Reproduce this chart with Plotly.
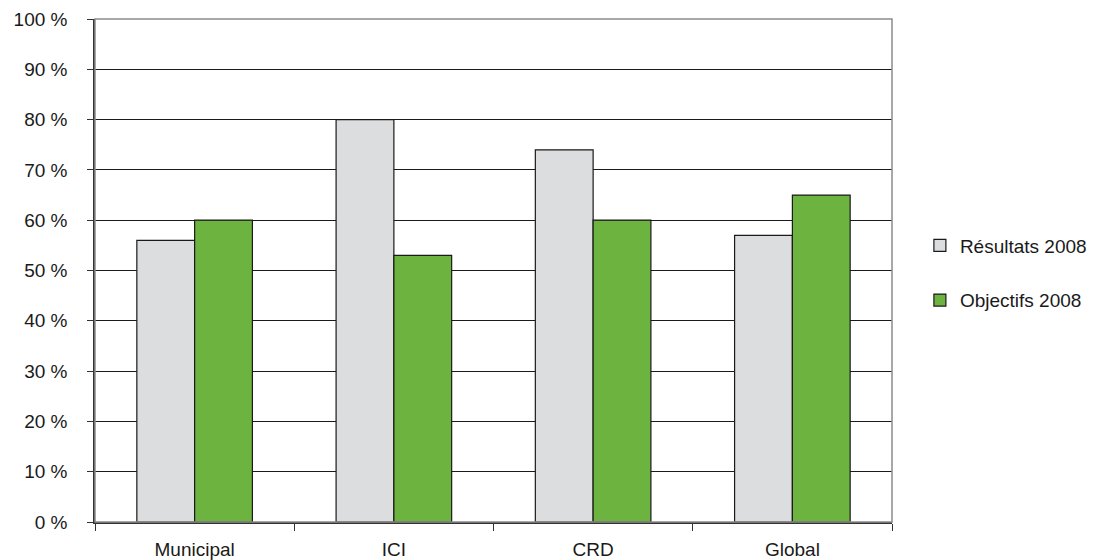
import plotly.graph_objects as go

categories = ["Municipal", "ICI", "CRD", "Global"]
resultats_2008 = [56, 80, 74, 57]
objectifs_2008 = [60, 53, 60, 65]
y_ticks = [0, 10, 20, 30, 40, 50, 60, 70, 80, 90, 100]
y_labels = [f"{v} %" for v in y_ticks]

FONT = "Liberation Sans"

fig = go.Figure()
fig.add_trace(go.Bar(
    x=categories, y=resultats_2008, name="Résultats 2008",
    marker=dict(color="#DCDDDF", line=dict(color="#1a1a1a", width=1.2)),
    legendgroup="a",
))
fig.add_trace(go.Bar(
    x=categories, y=objectifs_2008, name="Objectifs 2008",
    marker=dict(color="#6DB33F", line=dict(color="#1a1a1a", width=1.2)),
    legendgroup="b",
))

fig.update_layout(
    width=1102, height=560,
    margin=dict(l=95, r=210, t=19, b=38, autoexpand=False),
    paper_bgcolor="white", plot_bgcolor="white",
    barmode="group", bargap=0.42, bargroupgap=0,
    font=dict(family=FONT, size=19, color="#1a1a1a"),
    legend=dict(
        x=1.035, y=0.495, xanchor="left", yanchor="middle",
        tracegroupgap=27, traceorder="grouped",
        font=dict(size=19), itemwidth=30,
    ),
    shapes=[dict(type="rect", xref="paper", yref="paper", x0=0, x1=1, y0=0, y1=1,
                 line=dict(color="#8c8c8c", width=1.5), layer="above")],
)
fig.update_xaxes(
    showgrid=False, showline=True, linecolor="#333333", linewidth=1.5,
    ticks="outside", tickson="boundaries", ticklen=7, tickcolor="#333333",
    tickfont=dict(size=19), ticklabelstandoff=9, layer="above traces",
)
fig.update_yaxes(
    range=[0, 100], tickvals=y_ticks, ticktext=y_labels,
    showgrid=True, gridcolor="#1a1a1a", gridwidth=1,
    showline=True, linecolor="#333333", linewidth=1.5,
    ticks="outside", ticklen=6, tickcolor="#333333",
    tickfont=dict(size=19), ticklabelstandoff=16, zeroline=False,
)

fig.write_html("out.html", config={"displayModeBar": False},
               post_script="document.body.style.margin='0px';")
